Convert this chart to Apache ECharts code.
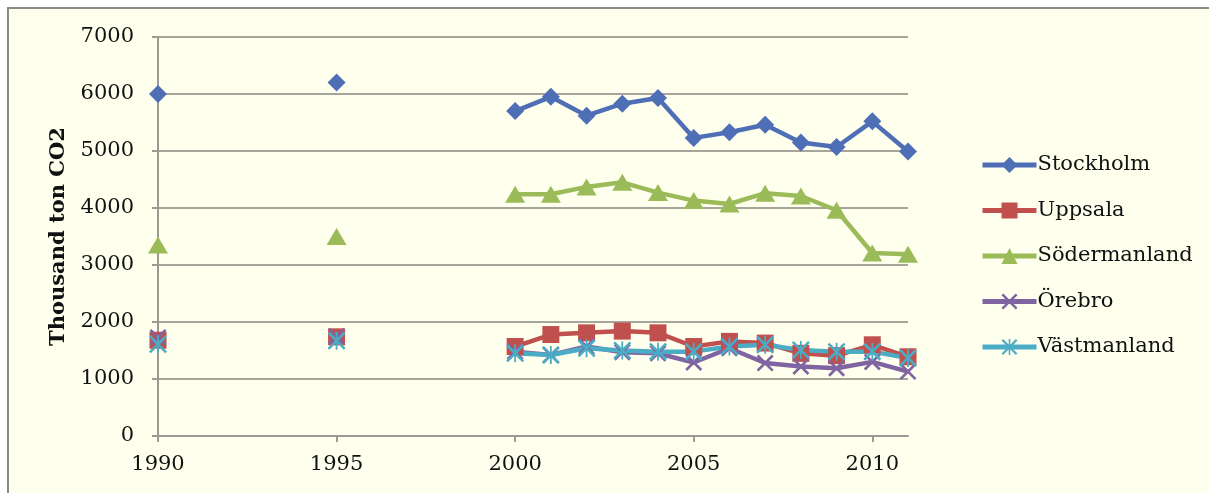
<!DOCTYPE html>
<html>
<head>
<meta charset="utf-8">
<script src="https://cdn.jsdelivr.net/npm/echarts@6/dist/echarts.min.js"></script>
<style>
  html, body { margin: 0; padding: 0; background: #ffffff; overflow: hidden; }
  #frame {
    position: absolute; left: 7px; top: 7px;
    width: 1200px; height: 484px;
    border-left: 2px solid #8e8b86; border-top: 2px solid #8e8b86;
    background: #ffffee;
  }
  #chart { width: 1200px; height: 484px; }
</style>
</head>
<body>
<div id="frame"><div id="chart"></div></div>
<script>
// Emissions per county, thousand ton CO2
const years = [1990, 1995, 2000, 2001, 2002, 2003, 2004, 2005, 2006, 2007, 2008, 2009, 2010, 2011];
const xTickYears = [1990, 1995, 2000, 2005, 2010];

const stockholm    = [6000, 6200, 5700, 5950, 5620, 5830, 5930, 5230, 5330, 5460, 5150, 5070, 5520, 4990];
const uppsala      = [1680, 1740, 1570, 1780, 1810, 1840, 1810, 1570, 1660, 1630, 1450, 1410, 1600, 1390];
const sodermanland = [3350, 3500, 4240, 4240, 4370, 4450, 4270, 4130, 4070, 4260, 4210, 3960, 3210, 3190];
const orebro       = [1730, 1750, 1480, 1420, 1570, 1470, 1450, 1290, 1540, 1280, 1220, 1190, 1300, 1130];
const vastmanland  = [1610, 1670, 1450, 1420, 1540, 1500, 1480, 1480, 1570, 1600, 1510, 1480, 1480, 1370];

const seriesNames = ['Stockholm', 'Uppsala', 'Södermanland', 'Örebro', 'Västmanland'];

// Single years before 2000 stand alone: a null point after each breaks the line
function toData(vals) {
  const out = [];
  years.forEach((y, i) => {
    out.push([y, vals[i]]);
    if (y < 2000) out.push([y, '-']);
  });
  return out;
}

const FONT = 'DejaVu Serif';
const crossPath = 'path://M0,2.2L2.2,0L20,17.8L17.8,20ZM17.8,0L20,2.2L2.2,20L0,17.8Z';
const starPath = 'path://M0,2L2,0L20,18L18,20ZM18,0L20,2L2,20L0,18ZM9,0L11,0L11,20L9,20Z';

function lineSeries(name, vals, color, symbol, size) {
  return {
    name: name,
    type: 'line',
    data: toData(vals),
    symbol: symbol,
    symbolSize: size,
    connectNulls: false,
    lineStyle: { color: color, width: 4.5 },
    itemStyle: { color: color },
    emphasis: { disabled: true },
    z: 3
  };
}

const chart = echarts.init(document.getElementById('chart'), null, { renderer: 'canvas' });
chart.setOption({
  animation: false,
  backgroundColor: 'transparent',
  grid: { left: 149, right: 301, top: 28, bottom: 57 },
  legend: {
    orient: 'vertical',
    left: 966,
    top: 140,
    itemWidth: 54,
    itemHeight: 20,
    itemGap: 23.5,
    data: seriesNames,
    lineStyle: { width: 5 },
    textStyle: { fontFamily: FONT, fontSize: 21, color: '#111', lineHeight: 22, padding: [0, 0, 0, -4] }
  },
  xAxis: {
    type: 'value',
    min: 1990,
    max: 2011,
    interval: 5,
    splitLine: { show: false },
    axisLine: { show: true, lineStyle: { color: '#9d9a93', width: 2 } },
    axisTick: { show: true, length: 6, customValues: xTickYears, lineStyle: { color: '#9d9a93', width: 2 } },
    axisLabel: {
      customValues: xTickYears,
      margin: 18,
      fontFamily: FONT, fontSize: 21, color: '#111',
      formatter: v => (v % 5 === 0 ? String(v) : '')
    }
  },
  yAxis: {
    type: 'value',
    min: 0,
    max: 7000,
    interval: 1000,
    name: 'Thousand ton CO2',
    nameLocation: 'middle',
    nameGap: 89,
    nameRotate: 90,
    nameMoveOverlap: false,
    nameTextStyle: { fontFamily: FONT, fontSize: 21, fontWeight: 'bold', color: '#111' },
    axisLine: { show: true, lineStyle: { color: '#9d9a93', width: 2 } },
    axisTick: { show: true, length: 6, lineStyle: { color: '#9d9a93', width: 2 } },
    splitLine: { show: true, lineStyle: { color: '#a7a49c', width: 2 } },
    axisLabel: { margin: 24, fontFamily: FONT, fontSize: 21, color: '#111', formatter: v => String(v) }
  },
  series: [
    lineSeries('Stockholm', stockholm, '#4e6eb5', 'diamond', 18),
    lineSeries('Uppsala', uppsala, '#c0504d', 'rect', 17),
    lineSeries('Södermanland', sodermanland, '#9bbb59', 'triangle', [20, 17]),
    lineSeries('Örebro', orebro, '#8064a2', crossPath, 17),
    lineSeries('Västmanland', vastmanland, '#4bacc6', starPath, 18)
  ]
});
</script>
</body>
</html>
